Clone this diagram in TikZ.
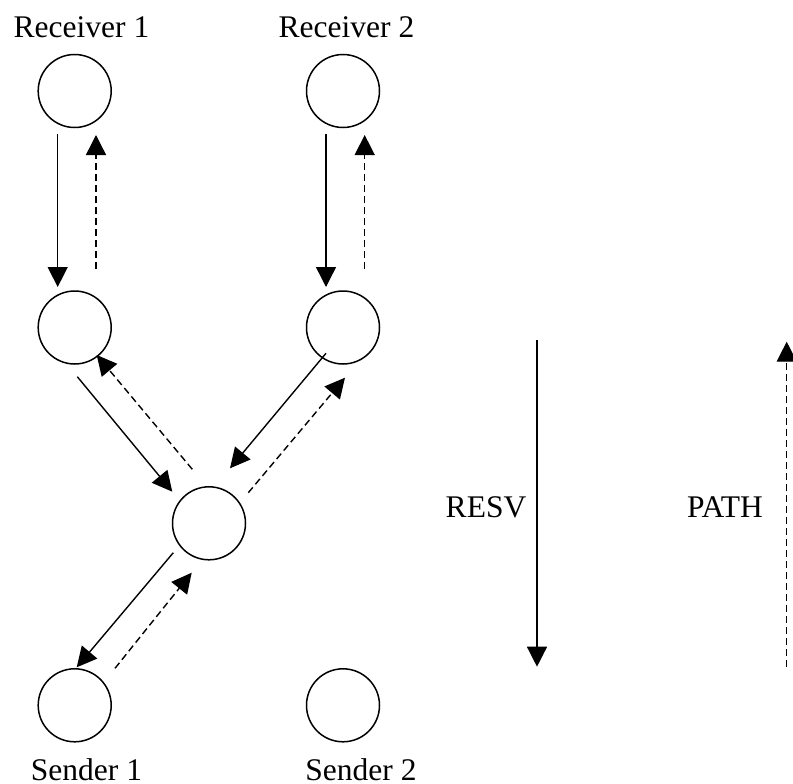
\documentclass[tikz,border=0pt]{standalone}
\usepackage{fontspec}
\setmainfont{Liberation Serif}
\usetikzlibrary{arrows.meta,calc}
\begin{document}
\begin{tikzpicture}[x=1pt,y=-1pt,
  nodecirc/.style={circle,draw,line width=1.5pt,minimum size=73pt,inner sep=0pt},
  lbl/.style={font=\fontsize{31.5}{36}\selectfont,anchor=base,inner sep=0pt},
  solidarr/.style={line width=1.4pt,-{Triangle[width=20pt,length=20pt]}},
  dasharr/.style={line width=1.4pt,dash pattern=on 7pt off 4pt,-{Triangle[width=20pt,length=20pt]}}]
\useasboundingbox (0,0) rectangle (793,784);
% nodes
\node[nodecirc] (r1) at (74.7,91) {};
\node[nodecirc] (r2) at (343,91) {};
\node[nodecirc] (m1) at (74.7,327.5) {};
\node[nodecirc] (m2) at (343,327.5) {};
\node[nodecirc] (c) at (209,523.3) {};
\node[nodecirc] (s1) at (74.7,705.3) {};
\node[nodecirc] (s2) at (343,705.3) {};
% labels
\node[lbl] (tr1) at (81.5,38) {Receiver 1};
\node[lbl] (tr2) at (346.5,38) {Receiver 2};
\node[lbl] (ts1) at (86.5,780) {Sender 1};
\node[lbl] (ts2) at (361,780) {Sender 2};
\node[lbl,anchor=center] (tresv) at (486,507) {RESV};
\node[lbl,anchor=center] (tpath) at (725,507) {PATH};
% vertical pairs
\draw[solidarr] ($(r1)+(-17,43)$) -- ($(m1)+(-17,-40.5)$);
\draw[dasharr] ($(m1)+(21.3,-58.5)$) -- ($(r1)+(21.3,44)$);
\draw[solidarr] ($(r2)+(-17,43)$) -- ($(m2)+(-17,-40.5)$);
\draw[dasharr] ($(m2)+(21.7,-58.5)$) -- ($(r2)+(21.7,44)$);
% diagonals
\draw[solidarr] ($(m1)+(2.6,49.2)$) -- ($(c)+(-36.7,-31.6)$);
\draw[dasharr] ($(c)+(-16.7,-54)$) -- ($(m1)+(22,27.5)$);
\draw[solidarr] ($(m2)+(-17,25.8)$) -- ($(c)+(21,-55)$);
\draw[dasharr] ($(c)+(39.3,-30.6)$) -- ($(m2)+(2,50.2)$);
\draw[solidarr] ($(c)+(-35.7,29.4)$) -- ($(s1)+(2,-38)$);
\draw[dasharr] ($(s1)+(40.3,-37)$) -- ($(c)+(-17.3,49.4)$);
% legend arrows
\coordinate (resvtop) at (537,340);
\coordinate (resvbot) at (537,666.7);
\coordinate (pathbot) at (786.7,666.7);
\coordinate (pathtop) at (786.7,341.7);
\draw[solidarr] (resvtop) -- (resvbot);
\draw[dasharr] (pathbot) -- (pathtop);
\end{tikzpicture}
\end{document}
